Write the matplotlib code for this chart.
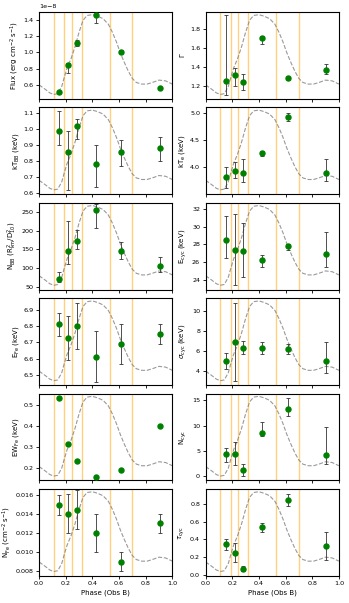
import numpy as np
import matplotlib
matplotlib.use('Agg')
import matplotlib.pyplot as plt

# phase bin edges (orange lines) and bin centres
edges = [0.11, 0.19, 0.245, 0.32, 0.53, 0.70]
phase = [0.15, 0.2175, 0.2825, 0.425, 0.615, 0.905]

# normalised light curve (grey dashed)
lc_phase = [0.0, 0.05, 0.08, 0.11, 0.14, 0.17, 0.19, 0.21, 0.24, 0.27, 0.30, 0.33,
            0.36, 0.40, 0.44, 0.48, 0.52, 0.55, 0.58, 0.61, 0.64, 0.67, 0.70, 0.73,
            0.77, 0.81, 0.85, 0.90, 0.95, 1.0]
lc_norm = [0.12, 0.06, 0.02, 0.0, 0.01, 0.10, 0.22, 0.33, 0.45, 0.60, 0.78, 0.93,
           0.99, 1.0, 0.98, 0.95, 0.88, 0.78, 0.66, 0.52, 0.40, 0.29, 0.20, 0.15,
           0.13, 0.13, 0.15, 0.18, 0.17, 0.13]

# value, lower error, upper error
flux = [0.504e-8, 0.85e-8, 1.12e-8, 1.46e-8, 1.01e-8, 0.56e-8]
flux_lo = [0.01e-8, 0.10e-8, 0.035e-8, 0.09e-8, 0.02e-8, 0.0]
flux_hi = [0.01e-8, 0.02e-8, 0.035e-8, 0.02e-8, 0.02e-8, 0.0]

gamma = [1.245, 1.314, 1.236, 1.70, 1.28, 1.37]
gamma_lo = [0.14, 0.12, 0.08, 0.06, 0.025, 0.05]
gamma_hi = [0.70, 0.07, 0.085, 0.025, 0.025, 0.054]

ktbb = [0.99, 0.86, 1.02, 0.78, 0.86, 0.88]
ktbb_lo = [0.09, 0.24, 0.08, 0.14, 0.09, 0.08]
ktbb_hi = [0.12, 0.13, 0.04, 0.12, 0.07, 0.07]

kte = [3.82, 3.94, 3.90, 4.26, 4.93, 3.90]
kte_lo = [0.21, 0.14, 0.17, 0.06, 0.08, 0.16]
kte_hi = [0.18, 0.15, 0.26, 0.04, 0.07, 0.25]

nbb = [72, 147, 173, 256, 145, 105]
nbb_lo = [10, 36, 21, 49, 20, 14]
nbb_hi = [18, 80, 30, 16, 26, 24]

ecyc = [28.52, 27.4, 27.3, 26.2, 27.85, 26.9]
ecyc_lo = [2.0, 4.0, 3.0, 0.8, 0.45, 1.5]
ecyc_hi = [2.7, 4.0, 3.1, 0.65, 0.25, 2.5]

efe = [6.81, 6.73, 6.80, 6.61, 6.69, 6.75]
efe_lo = [0.07, 0.14, 0.14, 0.15, 0.12, 0.06]
efe_hi = [0.07, 0.13, 0.14, 0.16, 0.12, 0.06]

scyc = [5.0, 6.9, 6.3, 6.3, 6.2, 5.0]
scyc_lo = [0.8, 3.9, 0.6, 0.6, 0.5, 1.2]
scyc_hi = [0.8, 3.9, 0.7, 0.6, 0.45, 1.9]

ewfe = [0.533, 0.313, 0.233, 0.157, 0.19, 0.398]

ncyc = [4.5, 4.4, 1.2, 8.6, 13.2, 4.2]
ncyc_lo = [1.6, 2.2, 1.2, 0.7, 1.2, 1.8]
ncyc_hi = [1.1, 2.4, 1.15, 2.1, 2.3, 5.6]

nfe = [0.01492, 0.0140, 0.0144, 0.0120, 0.0090, 0.0130]
nfe_lo = [0.001, 0.002, 0.002, 0.002, 0.001, 0.001]
nfe_hi = [0.001, 0.0021, 0.0021, 0.002, 0.001, 0.001]

tcyc = [0.352, 0.252, 0.067, 0.537, 0.848, 0.33]
tcyc_lo = [0.067, 0.104, 0.023, 0.052, 0.068, 0.16]
tcyc_hi = [0.058, 0.103, 0.029, 0.053, 0.062, 0.155]

panels = [
    (flux, flux_lo, flux_hi, 'Flux (erg cm$^{-2}$ s$^{-1}$)', (0.425e-8, 1.5e-8)),
    (gamma, gamma_lo, gamma_hi, r'$\Gamma$', (1.06, 1.98)),
    (ktbb, ktbb_lo, ktbb_hi, r'kT$_{\rm BB}$ (keV)', (0.594, 1.135)),
    (kte, kte_lo, kte_hi, r'kT$_{\rm e}$ (keV)', (3.5, 5.11)),
    (nbb, nbb_lo, nbb_hi, r'N$_{\rm BB}$ (R$^2_{\rm km}$/D$^2_{10}$)', (43, 274)),
    (ecyc, ecyc_lo, ecyc_hi, r'E$_{\rm cyc}$ (keV)', (22.9, 32.7)),
    (efe, efe_lo, efe_hi, r'E$_{\rm Fe}$ (keV)', (6.44, 6.97)),
    (scyc, scyc_lo, scyc_hi, r'$\sigma_{\rm cyc}$ (keV)', (2.57, 11.25)),
    (ewfe, None, None, r'EW$_{\rm Fe}$ (keV)', (0.14, 0.552)),
    (ncyc, ncyc_lo, ncyc_hi, r'N$_{\rm cyc}$', (-0.8, 16.3)),
    (nfe, nfe_lo, nfe_hi, r'N$_{\rm Fe}$ (cm$^{-2}$ s$^{-1}$)', (0.00754, 0.01657)),
    (tcyc, tcyc_lo, tcyc_hi, r'$\tau_{\rm cyc}$', (-0.01, 0.967)),
]

fs_tick = 4.6
fs_lab = 5.0
plt.rcParams['font.size'] = fs_tick

fig, ax = plt.subplots(6, 2, figsize=(3.49, 6.03), dpi=100, sharex=True)
fig.subplots_adjust(left=0.112, right=0.971, top=0.98, bottom=0.045,
                    wspace=0.25, hspace=0.1)

lc_y = np.array(lc_norm) * 0.92 + 0.05

for n, (val, lo, hi, ylabel, ylim) in enumerate(panels):
    _ax = ax[n // 2][n % 2]
    for e in edges:
        _ax.axvline(e, color='orange', alpha=0.5, lw=1.0, zorder=1)
    _ax.plot(lc_phase, lc_y, ls='--', color='gray', alpha=0.8, lw=0.8,
             transform=_ax.get_xaxis_transform(), zorder=2)
    if lo is not None:
        _ax.errorbar(phase, val, yerr=[lo, hi], fmt='none', ecolor='#333333',
                     elinewidth=0.6, capsize=1.5, capthick=0.6, zorder=3)
    _ax.plot(phase, val, 'o', color='green', markersize=3.6, zorder=4)
    _ax.set_ylim(*ylim)
    _ax.set_xlim(0, 1)
    _ax.set_ylabel(ylabel, fontsize=fs_lab, labelpad=2)
    _ax.tick_params(labelsize=fs_tick, length=2.5, width=0.6, pad=1.5)
    for s in _ax.spines.values():
        s.set_linewidth(0.8)
    _ax.yaxis.get_offset_text().set_fontsize(fs_tick)
    if n // 2 == 5:
        _ax.set_xlabel('Phase (Obs B)', fontsize=fs_lab, labelpad=2)

ax[0][0].set_yticks([0.6e-8, 0.8e-8, 1.0e-8, 1.2e-8, 1.4e-8])
ax[0][1].set_yticks([1.2, 1.4, 1.6, 1.8])
ax[1][0].set_yticks([0.6, 0.7, 0.8, 0.9, 1.0, 1.1])
ax[1][1].set_yticks([4.0, 4.5, 5.0])
ax[2][0].set_yticks([50, 100, 150, 200, 250])
ax[2][1].set_yticks([24, 26, 28, 30, 32])
ax[3][0].set_yticks([6.5, 6.6, 6.7, 6.8, 6.9])
ax[3][1].set_yticks([4, 6, 8, 10])
ax[4][0].set_yticks([0.2, 0.3, 0.4, 0.5])
ax[4][1].set_yticks([0, 5, 10, 15])
ax[5][0].set_yticks([0.008, 0.010, 0.012, 0.014, 0.016])
ax[5][1].set_yticks([0.0, 0.2, 0.4, 0.6, 0.8])
ax[5][0].set_xticks([0.0, 0.2, 0.4, 0.6, 0.8, 1.0])

plt.savefig('out.png', dpi=100)
plt.close()
